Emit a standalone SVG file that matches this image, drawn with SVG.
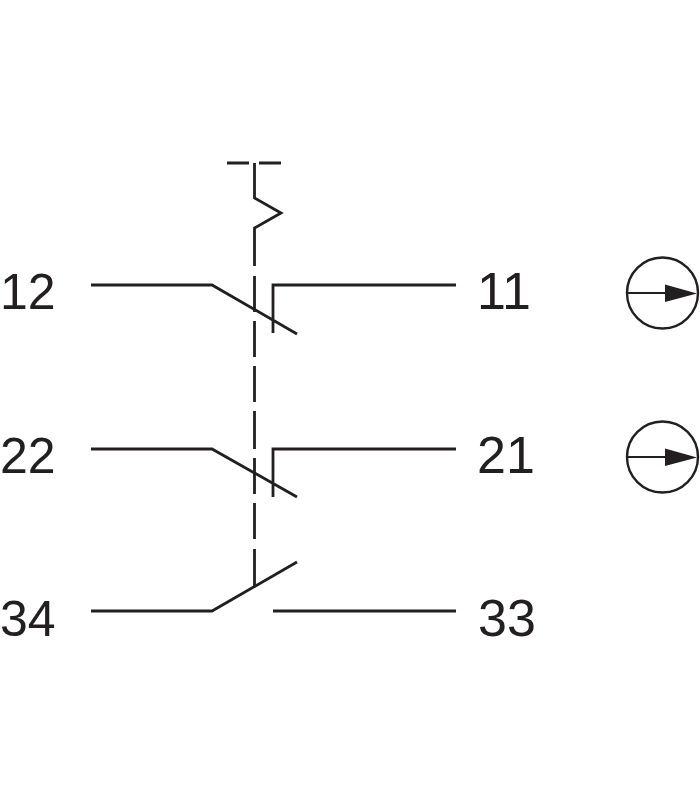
<svg xmlns="http://www.w3.org/2000/svg" width="700" height="800" viewBox="0 0 700 800">
<style>
.l{fill:none;stroke:#231f20;stroke-width:2.800;stroke-linejoin:miter}
.c{fill:#fff;stroke:#231f20;stroke-width:2.400}
.a{fill:none;stroke:#231f20;stroke-width:2}
.h{fill:#231f20}
text{font-family:"Liberation Sans",Arial,sans-serif;font-size:52px;fill:#231f20}
text.e{font-size:50px}
</style>
<rect width="700" height="800" fill="#fff"/>
<g id="connectors">
<path class="l" d="M227 163H249M259 163H281"/>
<path class="l" d="M254.500 163V198L281 213L254.500 228V266M254.500 276V312M254.500 321V357M254.500 366V402M254.500 411V449M254.500 458V494M254.500 503V539M254.500 549V586"/>
<path class="l" d="M91 285H212L297 334M456 285H273V333"/>
<path class="l" d="M91 449H212L297 497M456 449H273V497"/>
<path class="l" d="M91 611H212L297 562M273 611H456"/>
</g>
<g id="labels">
<text class="e" x="0" y="309">12</text>
<text x="477" y="309">11</text>
<text class="e" x="0" y="473">22</text>
<text x="477" y="473">21</text>
<text class="e" x="0" y="636">34</text>
<text x="478" y="636">33</text>
</g>
<g id="indicator-1">
<circle class="c" cx="662.500" cy="293" r="35.500"/>
<path class="a" d="M628 293H668"/>
<path class="h" d="M665 284.500L697 293.500L665 302Z"/>
</g>
<g id="indicator-2">
<circle class="c" cx="662.500" cy="457" r="35.500"/>
<path class="a" d="M628 457H668"/>
<path class="h" d="M665 448.500L697 457.500L665 466Z"/>
</g>
</svg>
